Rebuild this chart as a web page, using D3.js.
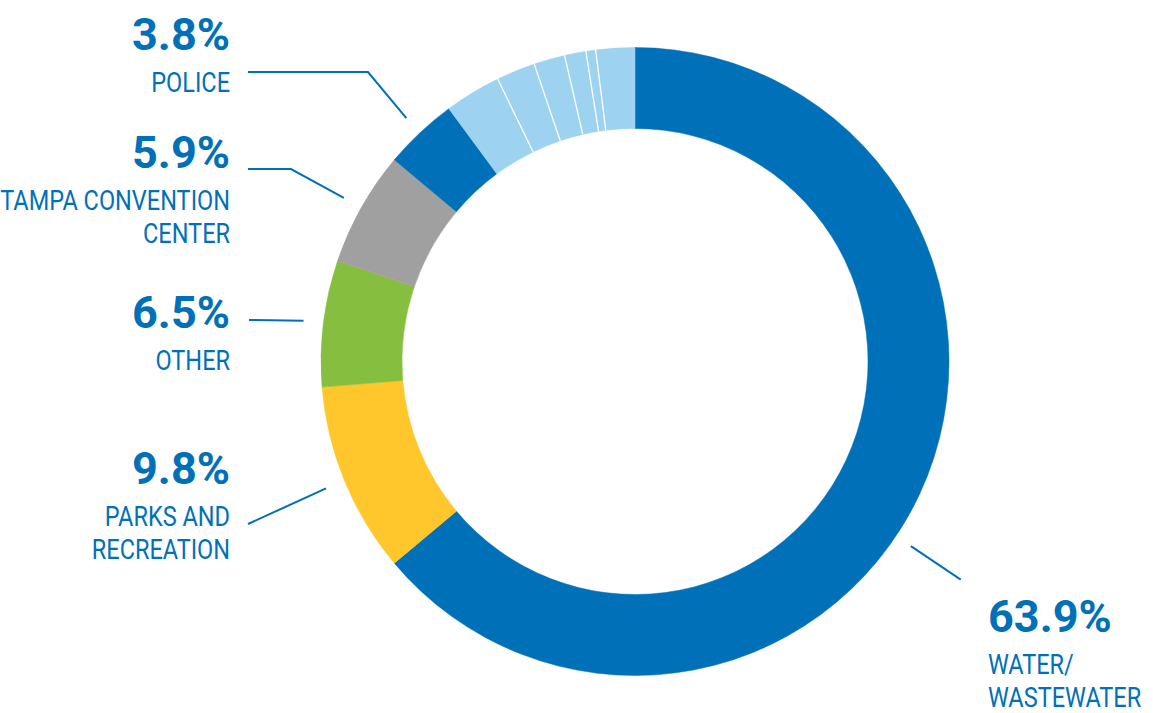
<!DOCTYPE html>
<html>
<head>
<meta charset="utf-8">
<script src="https://cdn.jsdelivr.net/npm/d3@7"></script>
<style>
  body { margin: 0; background: #fff; }
  svg { display: block; }
</style>
</head>
<body>
<div id="chart"></div>
<script>
// slices, clockwise from 12 o'clock
const categories = ['Water/Wastewater', 'Parks and Recreation', 'Other', 'Tampa Convention Center', 'Police',
  'Minor 1', 'Minor 2', 'Minor 3', 'Minor 4', 'Minor 5', 'Minor 6'];
const values = [63.9, 9.8, 6.5, 5.9, 3.8, 2.9, 2.0, 1.6, 1.1, 0.5, 2.0];
const labelLines = [['WATER/', 'WASTEWATER'], ['PARKS AND', 'RECREATION'], ['OTHER'], ['TAMPA CONVENTION', 'CENTER'], ['POLICE']];
const palette = ['#0070b8', '#ffc72c', '#86bf3f', '#a0a0a0', '#0070b8',
  '#9dd3f1', '#9dd3f1', '#9dd3f1', '#9dd3f1', '#9dd3f1', '#9dd3f1'];

const width = 1153, height = 713;
const cx = 635, cy = 361.5;
const outerR = 314, innerR = 233;
const textBlue = '#0070b8';

const data = categories.map((c, i) => ({ name: c, value: values[i], minor: i >= 5 }));

const svg = d3.select('#chart').append('svg')
  .attr('width', width)
  .attr('height', height);

const color = d3.scaleOrdinal().domain(categories).range(palette);

const pie = d3.pie().sort(null).value((d) => d.value);
const arcs = pie(data);
const arc = d3.arc().innerRadius(innerR).outerRadius(outerR);

const g = svg.append('g').attr('transform', `translate(${cx},${cy})`);

g.selectAll('path.slice')
  .data(arcs)
  .join('path')
  .attr('class', 'slice')
  .attr('d', arc)
  .attr('fill', (d) => color(d.data.name))
  .attr('stroke', (d) => color(d.data.name))
  .attr('stroke-width', 0.5);

// thin white dividers between the small light-blue slices
const dividers = arcs.filter((d, i) => i > 5 && d.data.minor);
g.selectAll('line.div')
  .data(dividers)
  .join('line')
  .attr('class', 'div')
  .attr('x1', (d) => innerR * Math.sin(d.startAngle))
  .attr('y1', (d) => -innerR * Math.cos(d.startAngle))
  .attr('x2', (d) => (outerR + 1) * Math.sin(d.startAngle))
  .attr('y2', (d) => -(outerR + 1) * Math.cos(d.startAngle))
  .attr('stroke', '#fff')
  .attr('stroke-width', 1.3);

// annotations: layout of labels and leader lines
const polar = (a, r) => [cx + r * Math.sin(a), cy - r * Math.cos(a)];
const mid = (d) => (d.startAngle + d.endAngle) / 2;

const annotations = [
  { i: 0, x: 988, y: 632, anchor: 'start', leader: () => [polar(123.8 * Math.PI / 180, 332), polar(123.8 * Math.PI / 180, 392)] },
  { i: 1, x: 230, y: 484, anchor: 'end', leader: (d) => [[248, 524], polar(mid(d), 334)] },
  { i: 2, x: 230, y: 328, anchor: 'end', leader: (d) => [[249, 320], polar(mid(d), 334)] },
  { i: 3, x: 230, y: 168, anchor: 'end', leader: (d) => [[248, 169], [291, 169], polar(mid(d), 334)] },
  { i: 4, x: 230, y: 50, anchor: 'end', leader: (d) => [[248, 72], [368, 72], polar(mid(d), 334)] }
];

const fmt = (v) => d3.format('.1f')(v) + '%';
const labelScale = 0.84;

const ann = svg.append('g').attr('class', 'annotations');

annotations.forEach((a) => {
  const d = arcs[a.i];
  ann.append('path')
    .attr('d', d3.line()(a.leader(d)))
    .attr('fill', 'none')
    .attr('stroke', textBlue)
    .attr('stroke-width', 2);

  ann.append('text')
    .attr('x', a.x)
    .attr('y', a.y)
    .attr('text-anchor', a.anchor)
    .attr('font-family', 'Roboto, sans-serif')
    .attr('font-weight', 700)
    .attr('font-size', 45)
    .attr('fill', textBlue)
    .text(fmt(d.data.value));

  labelLines[a.i].forEach((t, k) => {
    ann.append('text')
      .attr('transform', `translate(${a.x},${a.y + 41.5 + k * 33}) scale(${labelScale},1)`)
      .attr('text-anchor', a.anchor)
      .attr('font-family', 'Roboto, sans-serif')
      .attr('font-size', 28)
      .attr('fill', textBlue)
      .text(t);
  });
});
</script>
</body>
</html>
